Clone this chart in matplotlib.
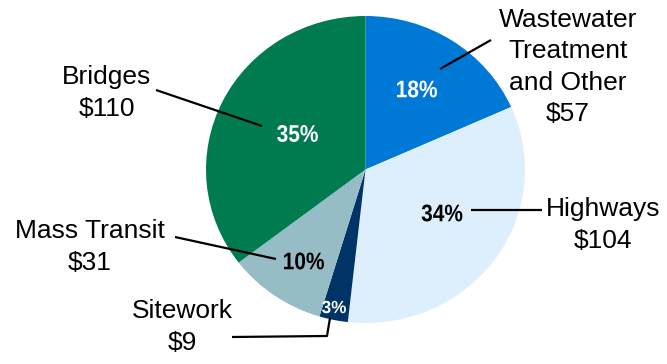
import matplotlib
matplotlib.use("Agg")
import matplotlib.pyplot as plt
from matplotlib.textpath import TextPath
from matplotlib.patches import PathPatch
from matplotlib.font_manager import FontProperties
from matplotlib.transforms import Affine2D

# spending by category ($ billions), clockwise from 12 o'clock
categories = ["Wastewater\nTreatment\nand Other", "Highways", "Sitework", "Mass Transit", "Bridges"]
values = [57, 104, 9, 31, 110]
pct_labels = ["18%", "34%", "3%", "10%", "35%"]
colors = ["#0078D6", "#DDEEFC", "#003466", "#96BDC5", "#007B50"]

W, H = 667, 364
fig = plt.figure(figsize=(W / 100, H / 100), dpi=100)

# pie axes placed in pixel terms (slightly wider than tall)
left, right, top, bottom = 206, 525, 16, 323
ax = fig.add_axes([left / W, (H - bottom) / H, (right - left) / W, (bottom - top) / H])
ax.pie(values, colors=colors, startangle=90, counterclock=False, radius=1,
       wedgeprops=dict(linewidth=0))
ax.set_aspect("auto")
ax.set_xlim(-1, 1)
ax.set_ylim(-1, 1)
ax.axis("off")

# overlay in pixel coordinates for labels and leader lines
ov = fig.add_axes([0, 0, 1, 1], zorder=5)
ov.set_xlim(0, W)
ov.set_ylim(H, 0)
ov.axis("off")
ov.patch.set_alpha(0)

name_font = dict(family=["Liberation Sans", "DejaVu Sans"], fontsize=19,
                 ha="center", va="center", linespacing=1.38)
bold = FontProperties(family="Liberation Sans", weight="bold")


def narrow_text(x, y, s, height_px, color, squeeze=0.87):
    # bold text drawn as a path, scaled to a glyph height, squeezed sideways
    tp = TextPath((0, 0), s, size=100, prop=bold)
    ext = tp.get_extents()
    k = height_px / ext.height
    cx, cy = (ext.x0 + ext.x1) / 2, (ext.y0 + ext.y1) / 2
    tr = Affine2D().translate(-cx, -cy).scale(k * squeeze, -k).translate(x, y)
    ov.add_patch(PathPatch(tr.transform_path(tp), facecolor=color,
                           edgecolor="none", zorder=6))


name_pos = [(568, 67), (603, 225), (182, 327), (90, 247), (107, 93)]
pct_pos = [(417, 89), (442, 213), (334, 307), (304, 261), (297.5, 133.5)]
pct_colors = ["white", "black", "white", "black", "white"]
pct_heights = [17, 17, 12.5, 17, 17]
pct_squeeze = [0.87, 0.87, 0.97, 0.87, 0.87]

for cat, val, (x, y) in zip(categories, values, name_pos):
    ov.text(x, y, f"{cat}\n${val}", **name_font)

for lab, (x, y), c, h, q in zip(pct_labels, pct_pos, pct_colors, pct_heights, pct_squeeze):
    narrow_text(x, y, lab, h, c, q)

leaders = [
    ([440, 491], [69, 40]),
    ([471, 542], [210, 210]),
    ([330, 327, 232], [318, 336, 337]),
    ([175, 276], [237, 259]),
    ([156, 262], [90, 126]),
]
for xs, ys in leaders:
    ov.plot(xs, ys, color="black", lw=1.6, solid_capstyle="butt")

fig.savefig("out.png", dpi=100)
